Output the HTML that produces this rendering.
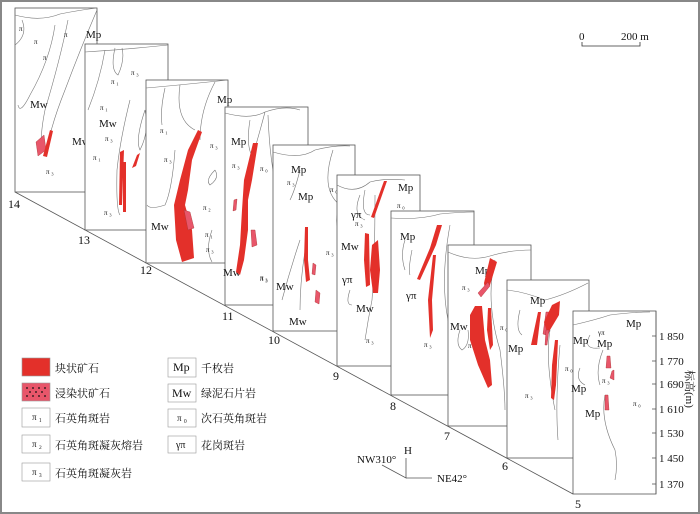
<!DOCTYPE html>
<html><head><meta charset="utf-8"><style>
html,body{margin:0;padding:0;background:#fff}
svg{display:block}
text{font-family:"Liberation Serif","Noto Serif CJK SC",serif;fill:#111}
.cn{font-family:"Liberation Serif","Noto Serif CJK SC",serif;font-size:11px}
.p{fill:#fff;stroke:#555;stroke-width:0.8}
.g{fill:none;stroke:#777;stroke-width:0.6}
.r{fill:#e3302a;stroke:none}
.k{fill:#e8566a;stroke:#a33;stroke-width:0.4}
.s{font-size:7px}
.m{font-size:11px}
</style></head><body>
<svg width="700" height="514" viewBox="0 0 700 514">
<rect x="1" y="1" width="698" height="512" fill="#fff" stroke="#888" stroke-width="2"/>
<line x1="15" y1="192" x2="573" y2="494" stroke="#555" stroke-width="0.8"/>

<!-- panel 14 -->
<rect class="p" x="15" y="8" width="82" height="184"/>
<path class="g" d="M15 15 Q40 22 60 14 Q80 10 97 8 M15 45 Q28 35 22 20 M55 25 Q50 60 30 95 Q20 115 18 105 M68 20 Q60 60 45 110 Q40 135 42 145 M97 10 Q80 50 65 90 Q55 115 50 135"/>
<text x="19" y="31" class="s">π</text><text x="34" y="44" class="s">π</text><text x="43" y="60" class="s">π</text><text x="64" y="37" class="s">π</text>
<text x="86" y="38" class="m">Mp</text><text x="30" y="108" class="m">Mw</text><text x="72" y="145" class="m">Mw</text><text x="46" y="174" class="s">π ₃</text>
<path class="k" d="M36 142 L44 135 L46 150 L38 156 Z"/><path class="r" d="M50 130 L53 131 L47 157 L43 156 Z"/>
<text x="8" y="208" font-size="12">14</text>

<!-- panel 13 -->
<rect class="p" x="85" y="44" width="83" height="186"/>
<path class="g" d="M85 52 Q120 50 168 45 M105 50 Q100 80 88 110 M115 48 Q110 70 118 75 Q125 60 122 48 M130 100 Q120 140 117 170 Q116 210 120 215 M145 110 Q135 140 140 150 Q150 130 145 110"/>
<text x="131" y="75" class="s">π ₃</text><text x="111" y="84" class="s">π ₁</text><text x="100" y="110" class="s">π ₁</text>
<text x="99" y="127" class="m">Mw</text><text x="105" y="141" class="s">π ₃</text><text x="93" y="160" class="s">π ₁</text><text x="104" y="215" class="s">π ₃</text>
<path class="r" d="M120 152 L124 150 L122 205 L119 205 Z"/><path class="r" d="M123 162 L126 162 L126 212 L123 212 Z"/><path class="r" d="M137 155 L140 153 L136 166 L132 168 Z"/>
<text x="78" y="244" font-size="12">13</text>

<!-- panel 12 -->
<rect class="p" x="146" y="80" width="82" height="183"/>
<path class="g" d="M146 88 Q180 85 228 80 M165 88 Q160 110 162 125 M180 85 Q175 120 195 130 M215 82 Q200 110 200 140 M175 150 Q172 190 165 205 Q150 210 147 205 M215 170 Q205 180 210 185 Q220 178 215 170 M212 230 Q205 250 212 262"/>
<text x="160" y="133" class="s">π ₁</text><text x="164" y="162" class="s">π ₃</text><text x="210" y="148" class="s">π ₃</text>
<text x="217" y="103" class="m">Mp</text><text x="151" y="230" class="m">Mw</text><text x="203" y="210" class="s">π ₂</text><text x="205" y="237" class="s">π ₁</text><text x="206" y="252" class="s">π ₃</text>
<path class="r" d="M198 130 L202 132 L192 160 L188 190 L185 205 L192 230 L194 258 L182 262 L176 240 L174 205 L180 180 L188 150 Z"/>
<path class="k" d="M184 210 L190 212 L194 228 L188 230 Z"/>
<text x="140" y="274" font-size="12">12</text>

<!-- panel 11 -->
<rect class="p" x="225" y="107" width="83" height="198"/>
<path class="g" d="M225 113 Q250 120 265 112 Q285 105 300 110 M250 120 Q245 150 255 160 M265 112 Q255 150 245 180 M268 115 Q270 170 280 200 Q290 240 300 265"/>
<text x="231" y="145" class="m">Mp</text><text x="232" y="168" class="s">π ₃</text><text x="260" y="171" class="s">π ₀</text>
<text x="223" y="276" class="m">Mw</text><text x="260" y="280" class="s">π ₃</text>
<path class="r" d="M253 143 L258 143 L252 180 L248 200 L248 230 L244 260 L240 275 L236 272 L240 245 L242 210 L244 180 Z"/>
<path class="k" d="M234 200 L237 199 L236 210 L233 211 Z"/><path class="k" d="M251 230 L255 230 L257 245 L252 247 Z"/>
<text x="222" y="320" font-size="12">11</text>

<!-- panel 10 -->
<rect class="p" x="273" y="145" width="82" height="186"/>
<path class="g" d="M273 152 Q300 160 315 150 Q335 145 350 146 M300 170 Q295 190 290 200 M333 150 Q320 190 340 205 Q330 230 350 245 M300 240 Q290 270 282 300 M306 245 Q300 280 300 310"/>
<text x="291" y="173" class="m">Mp</text><text x="287" y="185" class="s">π ₃</text><text x="298" y="200" class="m">Mp</text><text x="330" y="192" class="s">π ₀</text>
<text x="276" y="290" class="m">Mw</text><text x="289" y="325" class="m">Mw</text><text x="326" y="255" class="s">π ₃</text><text x="260" y="281" class="s">π ₃</text>
<path class="r" d="M305 227 L308 227 L308 260 L310 280 L306 282 L304 260 Z"/>
<path class="k" d="M313 263 L316 265 L315 275 L312 274 Z"/><path class="k" d="M316 290 L320 293 L319 304 L315 302 Z"/>
<text x="268" y="344" font-size="12">10</text>

<!-- panel 9 -->
<rect class="p" x="337" y="175" width="83" height="191"/>
<path class="g" d="M337 185 Q355 195 370 182 Q385 178 405 180 M360 195 Q352 215 365 220 M365 190 Q360 215 370 215 M375 195 Q375 260 372 300 Q368 320 365 340 M350 290 Q345 305 352 305"/>
<text x="398" y="191" class="m">Mp</text><text x="351" y="218" class="m">γπ</text><text x="355" y="226" class="s">π ₃</text>
<text x="341" y="250" class="m">Mw</text><text x="342" y="283" class="m">γπ</text><text x="356" y="312" class="m">Mw</text><text x="366" y="343" class="s">π ₃</text><text x="397" y="208" class="s">π ₀</text>
<path class="r" d="M384 181 L387 181 L374 218 L371 217 Z"/>
<path class="r" d="M365 233 L369 234 L370 285 L366 287 L364 260 Z"/>
<path class="r" d="M372 245 L378 240 L380 270 L378 293 L373 293 L370 270 Z"/>
<text x="333" y="380" font-size="12">9</text>

<!-- panel 8 -->
<rect class="p" x="391" y="211" width="83" height="184"/>
<path class="g" d="M391 218 Q420 220 440 214 Q460 212 474 212 M405 240 Q400 255 405 270 M412 250 Q408 270 410 275 M450 225 Q440 280 448 320 Q455 350 460 385"/>
<text x="400" y="240" class="m">Mp</text><text x="406" y="299" class="m">γπ</text><text x="424" y="347" class="s">π ₃</text><text x="453" y="292" class="s">π ₀</text>
<path class="r" d="M437 225 L442 225 L436 245 L420 280 L417 279 L430 248 Z"/>
<path class="r" d="M433 255 L436 255 L432 300 L433 330 L430 338 L428 300 Z"/>
<text x="390" y="410" font-size="12">8</text>

<!-- panel 7 -->
<rect class="p" x="448" y="245" width="83" height="181"/>
<path class="g" d="M448 252 Q470 262 490 256 Q510 250 531 250 M460 330 Q455 345 462 350 Q470 345 468 330 M495 260 Q485 300 500 350 Q505 390 505 410"/>
<text x="475" y="274" class="m">Mp</text><text x="462" y="290" class="s">π ₃</text><text x="450" y="330" class="m">Mw</text><text x="500" y="330" class="s">π ₀</text><text x="468" y="348" class="s">π ₃</text>
<path class="r" d="M490 258 L497 262 L490 285 L485 290 L484 283 Z"/>
<path class="k" d="M478 293 L488 282 L490 286 L481 297 Z"/>
<path class="r" d="M475 306 L482 306 L485 340 L490 360 L492 385 L488 388 L478 365 L470 340 L470 315 Z"/>
<path class="r" d="M488 308 L491 308 L493 345 L490 350 L487 330 Z"/>
<text x="444" y="440" font-size="12">7</text>

<!-- panel 6 -->
<rect class="p" x="507" y="280" width="82" height="178"/>
<path class="g" d="M507 290 Q525 292 545 300 Q565 295 588 283 M520 310 Q515 330 522 335 M550 330 Q545 360 555 410 M560 345 Q555 400 558 440"/>
<text x="530" y="304" class="m">Mp</text><text x="508" y="352" class="m">Mp</text><text x="565" y="371" class="s">π ₀</text><text x="525" y="398" class="s">π ₃</text>
<path class="r" d="M538 312 L541 312 L537 345 L531 345 Z"/>
<path class="k" d="M546 312 L549 312 L546 335 L543 334 Z"/>
<path class="r" d="M552 305 L560 301 L559 315 L550 330 L548 335 L544 322 Z"/>
<path class="r" d="M555 340 L558 340 L556 385 L554 400 L551 398 L552 365 Z"/>
<path class="k" d="M546 330 L549 330 L547 345 L545 345 Z"/>
<text x="502" y="470" font-size="12">6</text>

<!-- panel 5 -->
<rect class="p" x="573" y="311" width="83" height="183"/>
<path class="g" d="M573 325 Q595 320 610 315 Q635 312 650 312 M590 335 Q582 350 600 348 M603 350 Q595 370 600 385 M605 395 Q600 420 615 450 Q618 465 615 480 M580 368 Q575 380 585 385"/>
<text x="626" y="327" class="m">Mp</text><text x="598" y="335" class="s">γπ</text><text x="597" y="347" class="m">Mp</text><text x="573" y="344" class="m">Mp</text>
<text x="571" y="392" class="m">Mp</text><text x="585" y="417" class="m">Mp</text><text x="602" y="383" class="s">π ₃</text><text x="633" y="406" class="s">π ₀</text>
<path class="k" d="M607 356 L610 356 L611 368 L606 368 Z"/><path class="k" d="M612 371 L614 370 L614 380 L610 378 Z"/><path class="k" d="M605 395 L608 395 L609 410 L605 410 Z"/>
<text x="575" y="508" font-size="12">5</text>

<!-- axis -->
<line x1="656" y1="311" x2="656" y2="494" stroke="#555" stroke-width="0.8"/>
<g stroke="#555" stroke-width="0.8">
<line x1="652" y1="336" x2="656" y2="336"/><line x1="652" y1="361" x2="656" y2="361"/><line x1="652" y1="384" x2="656" y2="384"/><line x1="652" y1="409" x2="656" y2="409"/><line x1="652" y1="433" x2="656" y2="433"/><line x1="652" y1="458" x2="656" y2="458"/><line x1="652" y1="484" x2="656" y2="484"/>
</g>
<g font-size="11"><text x="659" y="340">1 850</text><text x="659" y="365">1 770</text><text x="659" y="388">1 690</text><text x="659" y="413">1 610</text><text x="659" y="437">1 530</text><text x="659" y="462">1 450</text><text x="659" y="488">1 370</text></g>
<text class="cn" transform="translate(686,370) rotate(90)">标高(m)</text>

<!-- scale -->
<text x="579" y="40" font-size="11">0</text>
<path d="M582 42 L582 46 L640 46 L640 42" fill="none" stroke="#333" stroke-width="0.8"/>
<text x="621" y="40" font-size="11">200 m</text>

<!-- orientation -->
<text x="404" y="454" font-size="11">H</text>
<text x="357" y="463" font-size="11">NW310°</text>
<text x="437" y="482" font-size="11">NE42°</text>
<path d="M382 465 L406 478 L406 458 M406 478 L432 478" fill="none" stroke="#555" stroke-width="0.8"/>

<!-- legend -->
<rect x="22" y="358" width="28" height="18" fill="#e3302a" stroke="#999" stroke-width="0.6"/>
<rect x="22" y="383" width="28" height="18" fill="#e8566a" stroke="#999" stroke-width="0.6"/>
<g fill="#111"><circle cx="27" cy="388" r="0.9"/><circle cx="33" cy="388" r="0.9"/><circle cx="39" cy="388" r="0.9"/><circle cx="45" cy="388" r="0.9"/><circle cx="30" cy="392" r="0.9"/><circle cx="36" cy="392" r="0.9"/><circle cx="42" cy="392" r="0.9"/><circle cx="27" cy="396" r="0.9"/><circle cx="33" cy="396" r="0.9"/><circle cx="39" cy="396" r="0.9"/><circle cx="45" cy="396" r="0.9"/></g>
<g fill="#fff" stroke="#999" stroke-width="0.6">
<rect x="22" y="408" width="28" height="19"/><rect x="22" y="435" width="28" height="18"/><rect x="22" y="463" width="28" height="18"/>
<rect x="168" y="358" width="28" height="19"/><rect x="168" y="384" width="28" height="18"/><rect x="168" y="409" width="28" height="18"/><rect x="168" y="436" width="28" height="17"/>
</g>
<text x="32" y="420" font-size="9">π ₁</text><text x="32" y="447" font-size="9">π ₂</text><text x="32" y="475" font-size="9">π ₃</text>
<text x="173" y="371" font-size="12">Mp</text><text x="172" y="397" font-size="12">Mw</text><text x="177" y="421" font-size="9">π ₀</text><text x="176" y="448" font-size="10">γπ</text>
<g class="cn"><text x="55" y="372">块状矿石</text><text x="55" y="397">浸染状矿石</text><text x="55" y="422">石英角斑岩</text><text x="55" y="449">石英角斑凝灰熔岩</text><text x="55" y="477">石英角斑凝灰岩</text>
<text x="201" y="372">千枚岩</text><text x="201" y="397">绿泥石片岩</text><text x="201" y="422">次石英角斑岩</text><text x="201" y="449">花岗斑岩</text></g>
</svg>
</body></html>
